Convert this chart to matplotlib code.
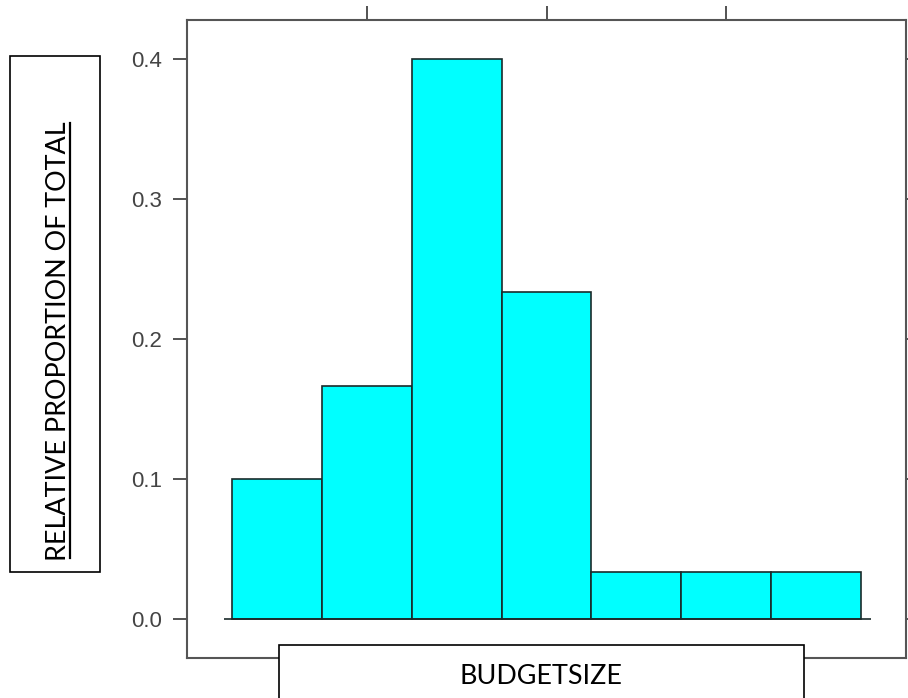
import matplotlib
matplotlib.use("Agg")
import matplotlib.pyplot as plt
from matplotlib.patches import Rectangle
from matplotlib.lines import Line2D

# ---- data ----
bin_edges = [0, 1, 2, 3, 4, 5, 6, 7]
proportions = [3/30, 5/30, 12/30, 7/30, 1/30, 1/30, 1/30]
y_ticks = [0.0, 0.1, 0.2, 0.3, 0.4]
y_tick_labels = ["0.0", "0.1", "0.2", "0.3", "0.4"]
x_ticks = [1.5, 3.5, 5.5]
x_label = "BUDGETSIZE"
y_label = "RELATIVE PROPORTION OF TOTAL"

W, H = 908, 698
fig = plt.figure(figsize=(W/100, H/100), dpi=100)
fig.patch.set_facecolor("white")

L, R, T, B = 187, 906, 20, 658
ax = fig.add_axes([L/W, 1 - B/H, (R-L)/W, (B-T)/H])

lefts = bin_edges[:-1]
widths = [bin_edges[i+1] - bin_edges[i] for i in range(len(lefts))]
ax.bar(lefts, proportions, width=widths, align="edge", color="#00FFFF",
       edgecolor="#1a2a2a", linewidth=1.2, zorder=2)
ax.plot([bin_edges[0] - 0.09, bin_edges[-1] + 0.11], [0, 0], color="#1a2a2a",
        lw=1.2, zorder=3, solid_capstyle="butt")

ax.set_xlim(-0.5, 7.5)
ax.set_ylim(-0.0279, 0.4279)
ax.set_yticks(y_ticks)
ax.set_yticklabels(y_tick_labels)
ax.set_xticks(x_ticks)
ax.set_xticklabels([])
frame_col = "#555555"
for s in ax.spines.values():
    s.set_color(frame_col)
    s.set_linewidth(1.5)
ax.tick_params(axis="both", direction="out", length=10, width=1.3, color="#444444",
               labelsize=16, labelcolor="#444444", pad=8,
               top=True, right=True, bottom=True, left=True,
               labeltop=False, labelright=False, labelbottom=False)
for lab in ax.get_yticklabels():
    lab.set_fontfamily("Liberation Sans")

label_font = "Lato"

# y label box
bx0, bx1, by0, by1 = 10, 100, 56, 572
fig.patches.append(Rectangle((bx0/W, 1 - by1/H), (bx1-bx0)/W, (by1-by0)/H,
                             transform=fig.transFigure, facecolor="white",
                             edgecolor="black", lw=1.2, zorder=5))
fig.text(58.5/W, 1 - 341/H, y_label, rotation=90, ha="center", va="center",
         fontsize=19.4, family=label_font, color="black", zorder=6)
fig.lines.append(Line2D([70/W, 70/W], [1 - 558/H, 1 - 123/H],
                        transform=fig.transFigure, color="black", lw=1.6, zorder=6))

# x label box
cx0, cx1, cy0 = 279, 804, 645
fig.patches.append(Rectangle((cx0/W, -0.05), (cx1-cx0)/W, 1 - cy0/H + 0.05,
                             transform=fig.transFigure, facecolor="white",
                             edgecolor="black", lw=1.2, zorder=5))
fig.text(541/W, 1 - 676/H, x_label, ha="center", va="center",
         fontsize=19.4, family=label_font, color="black", zorder=6)

fig.savefig("out.png", dpi=100, facecolor="white")
